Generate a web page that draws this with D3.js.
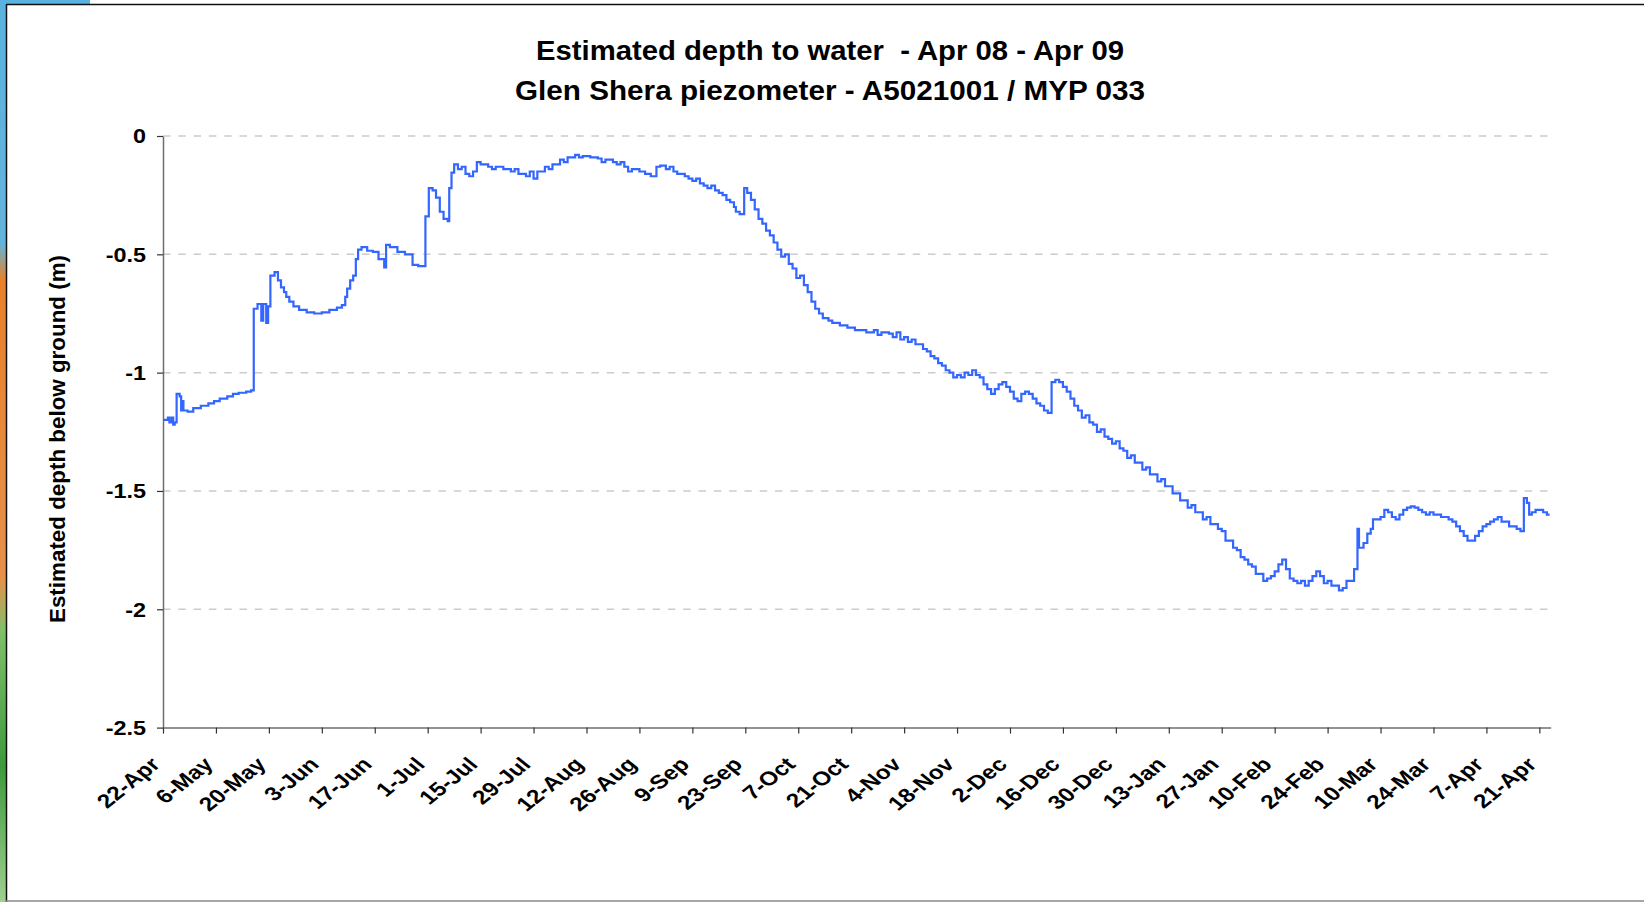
<!DOCTYPE html>
<html><head><meta charset="utf-8">
<script src="https://cdn.jsdelivr.net/npm/d3@7"></script>
<style>
body{margin:0;background:#fff}
svg{display:block}
text{font-family:Arial,"Liberation Sans",sans-serif;font-weight:bold;fill:#000}
</style>
</head><body><svg id="c" width="1644" height="902"></svg>
<script>
// ---------- data ----------
const titleLines = ["Estimated depth to water  - Apr 08 - Apr 09", "Glen Shera piezometer - A5021001 / MYP 033"];
const yAxisTitle = "Estimated depth below ground (m)";
const yTicks = [0, -0.5, -1, -1.5, -2, -2.5];
const yTickLabels = ["0", "-0.5", "-1", "-1.5", "-2", "-2.5"];
const tickDates = ["2008-04-22","2008-05-06","2008-05-20","2008-06-03","2008-06-17","2008-07-01","2008-07-15","2008-07-29","2008-08-12","2008-08-26","2008-09-09","2008-09-23","2008-10-07","2008-10-21","2008-11-04","2008-11-18","2008-12-02","2008-12-16","2008-12-30","2009-01-13","2009-01-27","2009-02-10","2009-02-24","2009-03-10","2009-03-24","2009-04-07","2009-04-21"];
const tickLabels = ["22-Apr","6-May","20-May","3-Jun","17-Jun","1-Jul","15-Jul","29-Jul","12-Aug","26-Aug","9-Sep","23-Sep","7-Oct","21-Oct","4-Nov","18-Nov","2-Dec","16-Dec","30-Dec","13-Jan","27-Jan","10-Feb","24-Feb","10-Mar","24-Mar","7-Apr","21-Apr"];
const startDate = "2008-04-22";
const endDate = "2009-04-24";
// days since start date
const dayOffsets = [0,1.3,1.7,2.3,2.7,3.1,3.6,4.4,4.8,5.1,5.4,6.5,8,10,12,13.5,15,17,18.5,20,22,23.3,
24,25,26,26.5,27.3,27.8,28.4,29.5,30.4,31.2,32,32.6,33.4,34.5,36,38,40,42,44,46,47.3,48.2,48.7,49.5,50.3,51,51.6,52.5,54,55.5,57,58.5,
59,60,62,64,66,67.5,69.4,70.3,71.3,72.2,73.2,74.2,75.3,75.7,76.3,
77,78,79,80,81,82,83,84,86,87,88,90,92,93,94,96,97,98,99,101,102,103,105,106,107,109,110,111,113,115,116,117,119,120,121,122,123,124,126,127.5,129,
130.5,131.5,133,134,135,136,138,139,140,141,142,143,144,145,146,147,148,149,150,151,151.5,152.5,
153.7,154.5,155.5,156.5,157.5,158.5,159.5,160.5,161.5,162.5,163.5,164.5,165.5,166.5,167.5,168.5,169.5,170.5,171.5,172.5,173.5,174.5,
176,177,178,179,180,181,182,183,184,186,188,189,190,192,193,194,195,196,197,198,199,200,201,202,203,204,205,206,207,208,209,210,
211,212,213,214,215,216,217,218,219,220,221,222,223,224,225,226,227,228,229,230,231,232,233,234,
235,236,237,238,239,240,241,242,243,244,245,246,247,248,249,250,251,252,253,254,255,256,257,258,259,260,
261,262,263,264,265,266,267,268,269,270,271,272,273,274,275,276,277,278,279,280,281,282,283,284,285,286,287,288,289,290,
291,292,293,294,295,296,297,298,299,300,301,302,303,304,305,306,307,308,309,310,311,312,313,314,315,
315.9,316.3,317.5,318.5,319.4,320,321,322,323,324,325,326,
327,328,329,330,331,332,333,334,335,336,337,338,339,340,341,342,343,344,345,346,347,348,349,350,
351,352,353,354,355,356,357,358,359,359.9,360.7,361.3,362,363,364,365,366,366.7];
const depths = [-1.20,-1.19,-1.21,-1.19,-1.22,-1.21,-1.09,-1.10,-1.16,-1.12,-1.16,-1.165,-1.15,-1.14,-1.13,-1.12,-1.11,-1.10,-1.09,-1.085,-1.08,-1.075,
-0.73,-0.71,-0.78,-0.71,-0.79,-0.72,-0.59,-0.575,-0.61,-0.64,-0.66,-0.68,-0.70,-0.72,-0.735,-0.745,-0.75,-0.745,-0.735,-0.725,-0.715,-0.68,-0.645,-0.61,-0.59,-0.52,-0.48,-0.47,-0.485,-0.49,-0.52,-0.555,
-0.46,-0.47,-0.49,-0.50,-0.545,-0.55,-0.34,-0.22,-0.23,-0.26,-0.32,-0.35,-0.36,-0.22,-0.155,
-0.12,-0.14,-0.13,-0.16,-0.17,-0.15,-0.11,-0.12,-0.13,-0.14,-0.13,-0.14,-0.15,-0.14,-0.16,-0.17,-0.15,-0.18,-0.15,-0.13,-0.14,-0.12,-0.10,-0.11,-0.09,-0.08,-0.09,-0.085,-0.09,-0.095,-0.11,-0.10,-0.11,-0.12,-0.11,-0.13,-0.15,-0.14,-0.15,-0.16,-0.17,
-0.13,-0.125,-0.14,-0.13,-0.15,-0.16,-0.17,-0.18,-0.19,-0.18,-0.20,-0.21,-0.22,-0.21,-0.23,-0.24,-0.25,-0.27,-0.28,-0.30,-0.32,-0.33,
-0.22,-0.24,-0.27,-0.31,-0.35,-0.37,-0.40,-0.42,-0.45,-0.48,-0.51,-0.50,-0.54,-0.56,-0.60,-0.59,-0.63,-0.66,-0.70,-0.73,-0.75,-0.77,
-0.78,-0.79,-0.79,-0.80,-0.80,-0.81,-0.81,-0.82,-0.82,-0.83,-0.82,-0.84,-0.83,-0.835,-0.85,-0.83,-0.86,-0.85,-0.87,-0.86,-0.88,-0.88,-0.90,-0.91,-0.93,-0.94,-0.96,-0.97,-0.99,-1.00,-1.02,-1.01,
-1.02,-1.00,-1.01,-0.99,-1.01,-1.02,-1.05,-1.07,-1.09,-1.07,-1.05,-1.04,-1.06,-1.08,-1.11,-1.12,-1.09,-1.08,-1.09,-1.11,-1.13,-1.14,-1.16,-1.17,
-1.04,-1.03,-1.04,-1.06,-1.08,-1.11,-1.14,-1.16,-1.19,-1.18,-1.21,-1.22,-1.25,-1.24,-1.27,-1.28,-1.30,-1.29,-1.32,-1.33,-1.36,-1.35,-1.38,-1.38,-1.41,-1.40,
-1.43,-1.43,-1.46,-1.45,-1.48,-1.48,-1.51,-1.51,-1.54,-1.54,-1.57,-1.56,-1.59,-1.59,-1.62,-1.61,-1.64,-1.64,-1.66,-1.67,-1.71,-1.71,-1.74,-1.75,-1.78,-1.79,-1.81,-1.82,-1.85,-1.85,
-1.88,-1.87,-1.86,-1.84,-1.81,-1.79,-1.83,-1.87,-1.88,-1.89,-1.88,-1.90,-1.88,-1.86,-1.84,-1.86,-1.89,-1.88,-1.90,-1.90,-1.92,-1.91,-1.88,-1.88,-1.83,
-1.66,-1.74,-1.72,-1.68,-1.66,-1.62,-1.62,-1.61,-1.58,-1.59,-1.61,-1.62,
-1.60,-1.58,-1.57,-1.565,-1.57,-1.58,-1.59,-1.60,-1.59,-1.60,-1.60,-1.61,-1.61,-1.62,-1.63,-1.65,-1.67,-1.69,-1.71,-1.71,-1.69,-1.67,-1.65,-1.64,
-1.63,-1.62,-1.61,-1.63,-1.63,-1.65,-1.65,-1.66,-1.67,-1.53,-1.55,-1.60,-1.59,-1.58,-1.58,-1.59,-1.60,-1.60];

// ---------- drawing ----------
const svg = d3.select("#c");
const parse = d3.utcParse("%Y-%m-%d");
const t0 = parse(startDate);
const points = dayOffsets.map((d, i) => ({date: new Date(t0.getTime() + d * 864e5), v: depths[i]}));

const x = d3.scaleUtc().domain([t0, parse(endDate)]).range([163, 1550.7]);
const y = d3.scaleLinear().domain([-2.5, 0]).range([727.6, 136]);

// background strip / frame
const defs = svg.append("defs");
const lg = defs.append("linearGradient").attr("id", "strip").attr("x1", 0).attr("x2", 0).attr("y1", 0).attr("y2", 1);
[["0%", "#5ab2e0"], ["27%", "#62b4dc"], ["31%", "#e8812a"], ["64%", "#e7904a"], ["70%", "#7fbf6a"], ["85%", "#3d9a3d"], ["100%", "#9fd08f"]]
  .forEach(s => lg.append("stop").attr("offset", s[0]).attr("stop-color", s[1]));
svg.append("rect").attr("x", 0).attr("y", 0).attr("width", 6).attr("height", 902).attr("fill", "url(#strip)");
svg.append("rect").attr("x", 0).attr("y", 0).attr("width", 90).attr("height", 4).attr("fill", "#5ab2e0");
svg.append("line").attr("x1", 6.5).attr("x2", 6.5).attr("y1", 4).attr("y2", 902).attr("stroke", "#111").attr("stroke-width", 1.5);
svg.append("line").attr("x1", 6).attr("x2", 1644).attr("y1", 4.5).attr("y2", 4.5).attr("stroke", "#111").attr("stroke-width", 1.5);
svg.append("line").attr("x1", 6).attr("x2", 1644).attr("y1", 901).attr("y2", 901).attr("stroke", "#888").attr("stroke-width", 1.5);

// gridlines
svg.append("g").selectAll("line").data(yTicks.filter(v => v !== -2.5)).join("line")
  .attr("x1", 163).attr("x2", 1550.7).attr("y1", d => y(d)).attr("y2", d => y(d))
  .attr("stroke", "#cccccc").attr("stroke-width", 1.5).attr("stroke-dasharray", "7.5,7.8");

// y axis
const ya = svg.append("g").attr("transform", "translate(163,0)")
  .call(d3.axisLeft(y).tickValues(yTicks).tickSize(6).tickSizeOuter(0).tickFormat((d, i) => yTickLabels[i]));
ya.select(".domain").attr("stroke", "#6e6e6e").attr("stroke-width", 1.5);
ya.selectAll(".tick line").attr("stroke", "#333").attr("stroke-width", 1.2);
ya.selectAll(".tick text").attr("x", -17 / 1.2).attr("dy", "0.35em").attr("transform", "scale(1.2,1)")
  .style("font-size", "19.5px").style("font-family", "Arial, 'Liberation Sans', sans-serif").style("font-weight", "bold");

// x axis
const xa = svg.append("g").attr("transform", "translate(0,727.6)")
  .call(d3.axisBottom(x).tickValues(tickDates.map(parse)).tickSize(6).tickSizeOuter(0).tickFormat((d, i) => tickLabels[i]));
xa.select(".domain").attr("stroke", "#6e6e6e").attr("stroke-width", 1.5);
xa.selectAll(".tick line").attr("stroke", "#333").attr("stroke-width", 1.2);
xa.selectAll(".tick text").attr("x", 0).attr("y", 0).attr("dy", 0)
  .attr("text-anchor", "end").attr("transform", "translate(-2,38) scale(1.25,1) rotate(-45)")
  .style("font-size", "19.5px").style("font-family", "Arial, 'Liberation Sans', sans-serif").style("font-weight", "bold");

// data line
const line = d3.line().x(d => x(d.date)).y(d => y(d.v)).curve(d3.curveStepAfter);
svg.append("path").datum(points).attr("d", line)
  .attr("fill", "none").attr("stroke", "#3366ff").attr("stroke-width", 2.2).attr("stroke-linejoin", "miter");

// titles
svg.append("text").attr("x", 830).attr("y", 60).attr("text-anchor", "middle")
  .attr("textLength", 588).attr("lengthAdjust", "spacingAndGlyphs")
  .style("font-size", "27px").style("white-space", "pre").text(titleLines[0]);
svg.append("text").attr("x", 830).attr("y", 100).attr("text-anchor", "middle")
  .attr("textLength", 630).attr("lengthAdjust", "spacingAndGlyphs")
  .style("font-size", "27px").style("white-space", "pre").text(titleLines[1]);

// y axis title
svg.append("text").attr("transform", "translate(65,439) rotate(-90)").attr("text-anchor", "middle")
  .attr("textLength", 368).attr("lengthAdjust", "spacingAndGlyphs")
  .style("font-size", "22px").text(yAxisTitle);
</script>
</body></html>
